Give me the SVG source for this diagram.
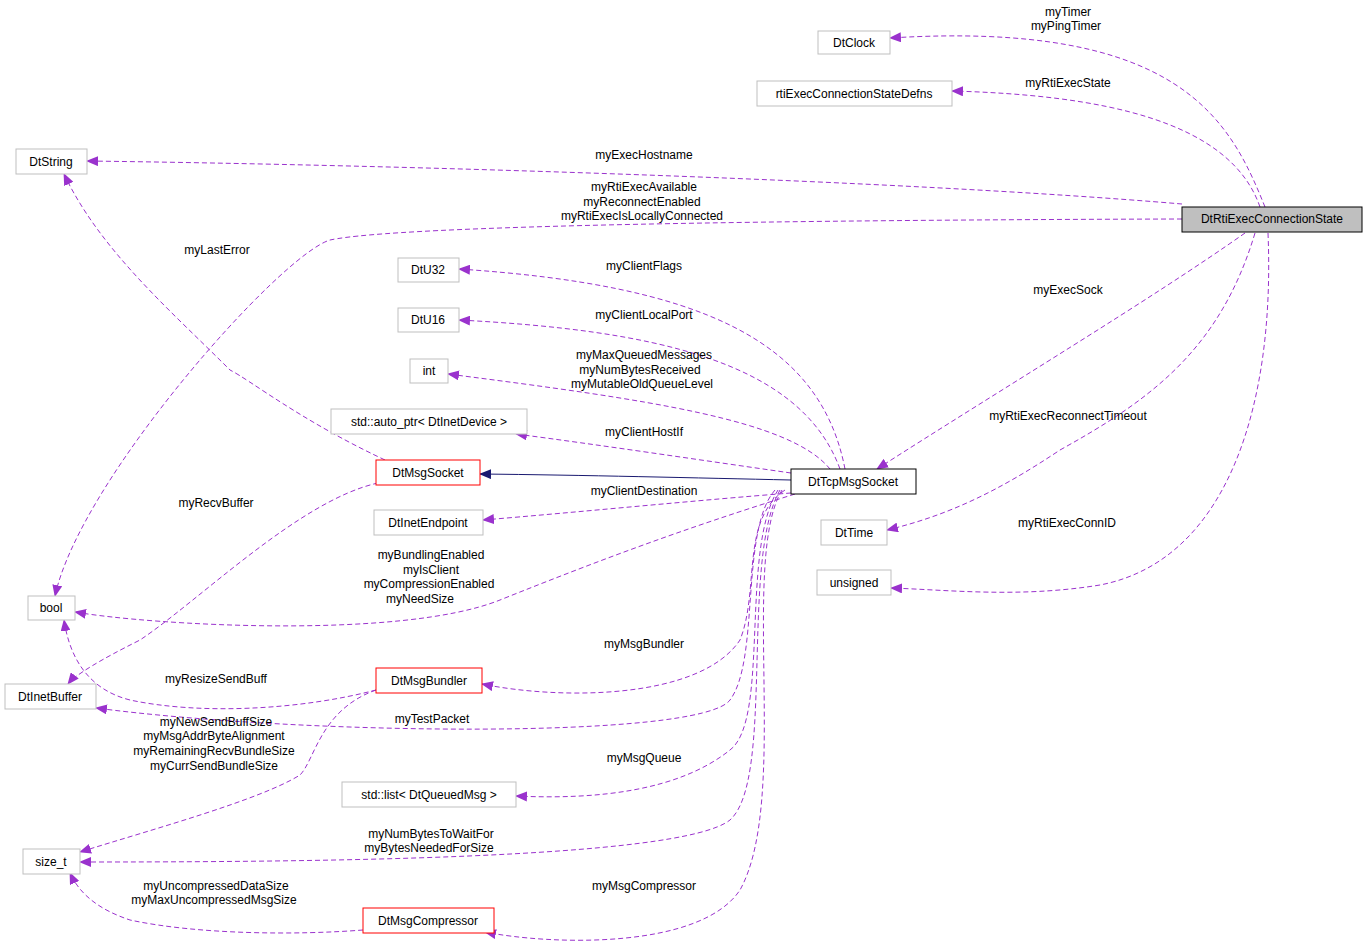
<svg xmlns="http://www.w3.org/2000/svg" width="1368" height="952" viewBox="0 0 1368 952">
<style>
text{font-family:"Liberation Sans",Arial,sans-serif;font-size:12px;fill:#000}
.n rect{fill:#fff;stroke:#bfbfbf}
.r rect{stroke:#f00}
.b rect{stroke:#000}
.lab{text-anchor:middle}
.e{fill:none;stroke:#9a32cd;stroke-dasharray:5,3}
.s{fill:none;stroke:#191970}
</style>
<defs>
<marker id="a" markerWidth="12" markerHeight="10" refX="11" refY="5" orient="auto" markerUnits="userSpaceOnUse"><path d="M0,0 L12,5 L0,10z" fill="#9a32cd"/></marker>
<marker id="b" markerWidth="12" markerHeight="10" refX="11" refY="5" orient="auto" markerUnits="userSpaceOnUse"><path d="M0,0 L12,5 L0,10z" fill="#191970"/></marker>
</defs>
<rect width="1368" height="952" fill="#fff"/>
<g id="connectors">
<path class="e" marker-end="url(#a)" d="M1265,207 C1230,120 1180,20 890,38"/>
<path class="e" marker-end="url(#a)" d="M1260,207 C1230,120 1100,95 952,91"/>
<path class="e" marker-end="url(#a)" d="M1182,204 C900,180 400,165 87,161"/>
<path class="e" marker-end="url(#a)" d="M1182,219 C800,220 400,225 330,240 C280,255 80,480 55,596"/>
<path class="e" marker-end="url(#a)" d="M1245,233 C1150,300 1000,390 877,469"/>
<path class="e" marker-end="url(#a)" d="M1255,233 C1220,350 1150,400 1060,450 C1000,490 950,515 887,530"/>
<path class="e" marker-end="url(#a)" d="M1268,233 C1275,400 1230,560 1100,585 C1020,598 950,590 891,588"/>
<path class="e" marker-end="url(#a)" d="M845,469 C820,340 700,285 459,269"/>
<path class="e" marker-end="url(#a)" d="M840,469 C800,360 650,330 459,320"/>
<path class="e" marker-end="url(#a)" d="M830,469 C790,420 650,400 448,374"/>
<path class="e" marker-end="url(#a)" d="M791,473 C700,460 600,445 516,434"/>
<path class="s" marker-end="url(#b)" d="M791,480 C700,478 580,475 480,474"/>
<path class="e" marker-end="url(#a)" d="M791,493 C700,500 580,512 483,520"/>
<path class="e" marker-end="url(#a)" d="M795,494 C680,530 600,560 500,600 C400,640 150,625 75,612"/>
<path class="e" marker-end="url(#a)" d="M785,490 C740,520 760,590 740,640 C700,700 560,700 482,684"/>
<path class="e" marker-end="url(#a)" d="M775,490 C740,530 760,660 730,700 C700,740 300,735 96,708"/>
<path class="e" marker-end="url(#a)" d="M778,490 C740,550 770,720 730,750 C680,790 600,800 516,796"/>
<path class="e" marker-end="url(#a)" d="M780,490 C740,560 775,780 730,820 C680,860 300,862 80,862"/>
<path class="e" marker-end="url(#a)" d="M782,490 C740,560 790,800 740,890 C700,950 550,945 485,932"/>
<path class="e" marker-end="url(#a)" d="M385,460 C300,420 250,380 230,370 C170,310 100,250 64,174"/>
<path class="e" marker-end="url(#a)" d="M378,483 C300,500 200,600 140,640 C100,660 75,675 68,684"/>
<path class="e" marker-end="url(#a)" d="M376,690 C300,710 200,715 130,700 C90,690 70,660 64,620"/>
<path class="e" marker-end="url(#a)" d="M376,690 C320,710 315,760 300,775 C260,800 150,830 80,852"/>
<path class="e" marker-end="url(#a)" d="M363,930 C300,935 200,935 130,920 C100,910 80,895 70,873"/>
</g>
<g class="lab" id="labels">
<text x="1068" y="16">myTimer</text><text x="1066" y="30">myPingTimer</text>
<text x="1068" y="87">myRtiExecState</text>
<text x="644" y="159">myExecHostname</text>
<text x="644" y="191">myRtiExecAvailable</text><text x="642" y="206">myReconnectEnabled</text><text x="642" y="220">myRtiExecIsLocallyConnected</text>
<text x="217" y="254">myLastError</text>
<text x="1068" y="294">myExecSock</text>
<text x="1068" y="420">myRtiExecReconnectTimeout</text>
<text x="1067" y="527">myRtiExecConnID</text>
<text x="644" y="270">myClientFlags</text>
<text x="644" y="319">myClientLocalPort</text>
<text x="644" y="359">myMaxQueuedMessages</text><text x="640" y="374">myNumBytesReceived</text><text x="642" y="388">myMutableOldQueueLevel</text>
<text x="644" y="436">myClientHostIf</text>
<text x="644" y="495">myClientDestination</text>
<text x="216" y="507">myRecvBuffer</text>
<text x="431" y="559">myBundlingEnabled</text><text x="431" y="574">myIsClient</text><text x="429" y="588">myCompressionEnabled</text><text x="420" y="603">myNeedSize</text>
<text x="644" y="648">myMsgBundler</text>
<text x="216" y="683">myResizeSendBuff</text>
<text x="432" y="723">myTestPacket</text>
<text x="216" y="726">myNewSendBuffSize</text><text x="214" y="740">myMsgAddrByteAlignment</text><text x="214" y="755">myRemainingRecvBundleSize</text><text x="214" y="770">myCurrSendBundleSize</text>
<text x="644" y="762">myMsgQueue</text>
<text x="431" y="838">myNumBytesToWaitFor</text><text x="429" y="852">myBytesNeededForSize</text>
<text x="644" y="890">myMsgCompressor</text>
<text x="216" y="890">myUncompressedDataSize</text><text x="214" y="904">myMaxUncompressedMsgSize</text>
</g>
<g id="DtRtiExecConnectionState" class="n b"><rect x="1182" y="207" width="180" height="25" style="fill:#bfbfbf"/><text class="lab" x="1272" y="223">DtRtiExecConnectionState</text></g>
<g id="DtClock" class="n"><rect x="818" y="31" width="72" height="23"/><text class="lab" x="854" y="47">DtClock</text></g>
<g id="rtiExecConnectionStateDefns" class="n"><rect x="757" y="81" width="195" height="25"/><text class="lab" x="854" y="98">rtiExecConnectionStateDefns</text></g>
<g id="DtString" class="n"><rect x="16" y="149" width="71" height="25"/><text class="lab" x="51" y="166">DtString</text></g>
<g id="DtU32" class="n"><rect x="398" y="258" width="61" height="24"/><text class="lab" x="428" y="274">DtU32</text></g>
<g id="DtU16" class="n"><rect x="398" y="308" width="61" height="24"/><text class="lab" x="428" y="324">DtU16</text></g>
<g id="int" class="n"><rect x="410" y="359" width="38" height="24"/><text class="lab" x="429" y="375">int</text></g>
<g id="auto_ptr" class="n"><rect x="331" y="409" width="196" height="25"/><text class="lab" x="429" y="426">std::auto_ptr&lt; DtInetDevice &gt;</text></g>
<g id="DtMsgSocket" class="n r"><rect x="376" y="460" width="104" height="25"/><text class="lab" x="428" y="477">DtMsgSocket</text></g>
<g id="DtTcpMsgSocket" class="n b"><rect x="791" y="469" width="125" height="25"/><text class="lab" x="853" y="486">DtTcpMsgSocket</text></g>
<g id="DtInetEndpoint" class="n"><rect x="374" y="510" width="109" height="25"/><text class="lab" x="428" y="527">DtInetEndpoint</text></g>
<g id="DtTime" class="n"><rect x="821" y="520" width="66" height="25"/><text class="lab" x="854" y="537">DtTime</text></g>
<g id="unsigned" class="n"><rect x="817" y="570" width="74" height="25"/><text class="lab" x="854" y="587">unsigned</text></g>
<g id="bool" class="n"><rect x="28" y="596" width="47" height="24"/><text class="lab" x="51" y="612">bool</text></g>
<g id="DtInetBuffer" class="n"><rect x="5" y="684" width="91" height="25"/><text class="lab" x="50" y="701">DtInetBuffer</text></g>
<g id="DtMsgBundler" class="n r"><rect x="376" y="668" width="106" height="25"/><text class="lab" x="429" y="685">DtMsgBundler</text></g>
<g id="list" class="n"><rect x="342" y="782" width="174" height="25"/><text class="lab" x="429" y="799">std::list&lt; DtQueuedMsg &gt;</text></g>
<g id="size_t" class="n"><rect x="23" y="849" width="57" height="25"/><text class="lab" x="51" y="866">size_t</text></g>
<g id="DtMsgCompressor" class="n r"><rect x="363" y="908" width="131" height="25"/><text class="lab" x="428" y="925">DtMsgCompressor</text></g>
</svg>
